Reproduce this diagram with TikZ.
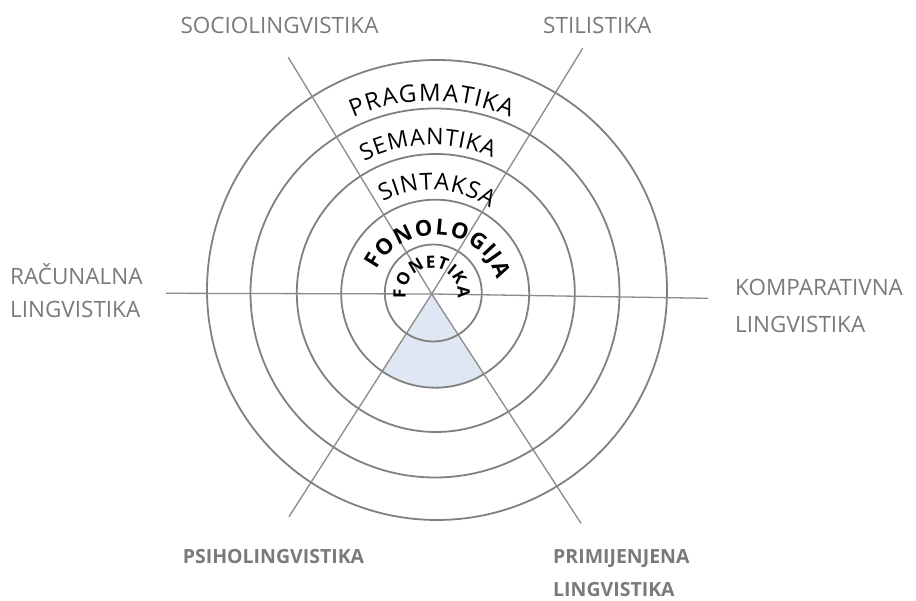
\documentclass[tikz,border=0pt]{standalone}
\usepackage{fontspec}
\setmainfont{Open Sans}
\usetikzlibrary{decorations.text}
\definecolor{ringgray}{RGB}{128,128,128}
\definecolor{linegray}{RGB}{138,138,138}
\definecolor{labelgray}{RGB}{122,122,122}
\definecolor{sectorfill}{RGB}{224,231,244}
\begin{document}
\begin{tikzpicture}[x=1pt,y=1pt,
  ring/.style={draw=ringgray, line width=1.8pt},
  spoke/.style={draw=linegray, line width=1.3pt},
  lbl/.style={text=labelgray, font=\fontsize{22.5}{30}\selectfont, inner sep=0pt},
  lblb/.style={lbl, font=\fontsize{19.5}{26}\selectfont\bfseries},
  arcreg/.style 2 args={decorate, decoration={text effects along path, text={#1},
     text effects/.cd, text along path, fit text to path,
     every character/.style={text=black, font=\fontsize{#2}{#2}\selectfont}}},
  arcbold/.style 2 args={decorate, decoration={text effects along path, text={#1},
     text effects/.cd, text along path, fit text to path,
     every character/.style={text=black, font=\fontsize{#2}{#2}\selectfont\bfseries}}},
]
\useasboundingbox (0,0) rectangle (916,601);
% centres
\coordinate (X) at (431.7,307);
\coordinate (c1) at (433.3,308);
\coordinate (c2) at (435.2,307.3);
\coordinate (c3) at (435.8,308);
\coordinate (c4) at (435,308);
\coordinate (c5) at (437,311);
% spoke ends
\coordinate (hl) at (166,307.7);
\coordinate (hr) at (708,302.7);
\coordinate (l1a) at (288.3,543.7);
\coordinate (l1b) at (581,77.7);
\coordinate (l2a) at (582.7,552.7);
\coordinate (l2b) at (289,84.3);
% shaded sector
\begin{scope}
  \clip (X) -- (l1b) -- (l2b) -- cycle;
  \fill[sectorfill] (c2) circle[radius=94];
\end{scope}
% rings
\draw[ring] (c1) circle[radius=48.5];
\draw[ring] (c2) circle[radius=94];
\draw[ring] (c3) circle[radius=139];
\draw[ring] (c4) circle[radius=184.5];
\draw[ring] (c5) circle[radius=230];
% spokes
\draw[spoke] (hl) -- (X) -- (hr);
\draw[spoke] (l1a) -- (X) -- (l1b);
\draw[spoke] (l2a) -- (X) -- (l2b);
% curved texts
\path[arcreg={PRAGMATIKA}{24}] (X) ++(114:193) arc[start angle=114, end angle=66, radius=193];
\path[arcreg={SEMANTIKA}{23}] (X) ++(117:149) arc[start angle=117, end angle=66, radius=149];
\path[arcreg={SINTAKSA}{23.5}] (X) ++(118:104) arc[start angle=118, end angle=56, radius=104];
\path[arcbold={FONOLOGIJA}{22}] (435,307) ++(156:64 and 59) arc[start angle=156, end angle=14, x radius=64, y radius=59];
\path[arcbold={FONETIKA}{17}] (X) ++(190:26) arc[start angle=190, end angle=-10, radius=26];
% outer labels
\node[lbl, anchor=base] (socio) at (279.5,567.5) {SOCIOLINGVISTIKA};
\node[lbl, anchor=base west] (stil) at (543,567.5) {STILISTIKA};
\node[lbl, anchor=base west] (rac1) at (10,316.5) {RAČUNALNA};
\node[lbl, anchor=base west] (rac2) at (10,283) {LINGVISTIKA};
\node[lbl, anchor=base west] (kom1) at (735,305) {KOMPARATIVNA};
\node[lbl, anchor=base west] (kom2) at (735,268) {LINGVISTIKA};
\node[lblb, anchor=base] (psi) at (273.5,37) {PSIHOLINGVISTIKA};
\node[lblb, anchor=base west] (pri1) at (553,37) {PRIMIJENJENA};
\node[lblb, anchor=base west] (pri2) at (553,4) {LINGVISTIKA};
\end{tikzpicture}
\end{document}
